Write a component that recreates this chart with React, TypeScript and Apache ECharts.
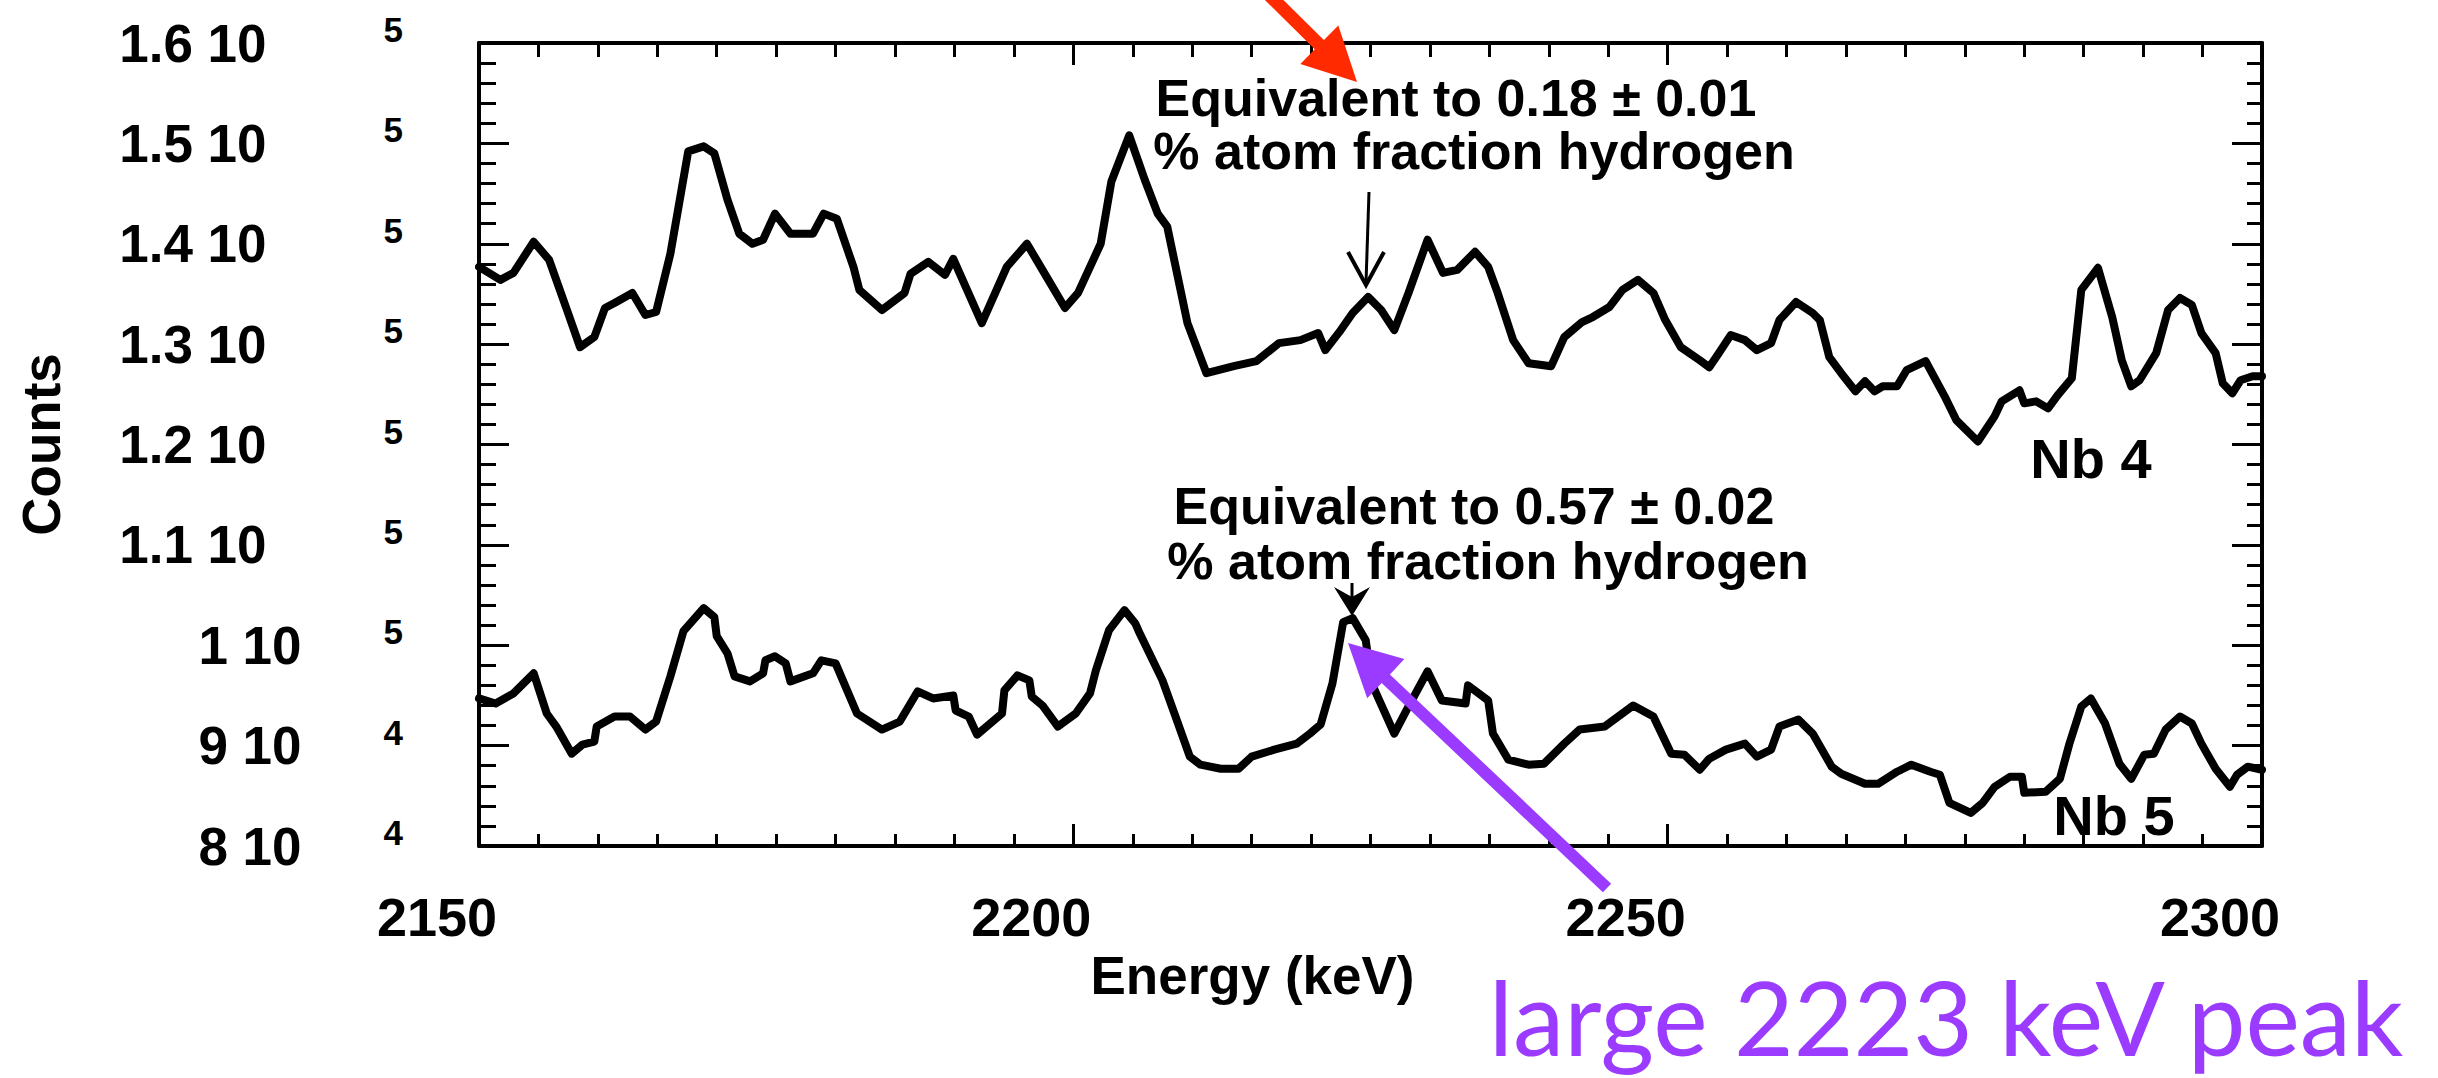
import React, { useEffect, useRef } from 'react';
import * as echarts from 'echarts';

// ---- data ----
const nb4Energy = [
  2150.0, 2151.8, 2152.9, 2154.6, 2155.9, 2157.4, 2158.5, 2159.7, 2160.6, 2161.4,
  2162.9, 2164.0, 2164.9, 2166.1, 2167.6, 2168.9, 2169.8, 2170.9, 2171.9, 2173.0,
  2173.9, 2174.9, 2176.2, 2178.1, 2179.0, 2180.1, 2181.5, 2182.0, 2183.9, 2185.8,
  2186.3, 2187.8, 2189.2, 2189.9, 2192.3, 2194.4, 2196.1, 2197.6, 2199.3, 2200.4,
  2202.3, 2203.2, 2204.7, 2206.0, 2207.1, 2207.9, 2209.6, 2211.2, 2213.5, 2215.4,
  2217.3, 2219.1, 2220.6, 2221.2, 2222.5, 2223.5, 2224.8, 2225.9, 2227.0, 2228.2,
  2229.8, 2231.1, 2232.3, 2233.8, 2234.9, 2235.7, 2237.0, 2238.3, 2240.2, 2241.3,
  2242.8, 2243.7, 2245.1, 2246.2, 2247.5, 2248.8, 2249.8, 2251.1, 2252.7, 2253.5,
  2254.3, 2255.3, 2256.5, 2257.5, 2258.7, 2259.4, 2260.8, 2262.2, 2262.8, 2263.6,
  2264.6, 2265.8, 2266.6, 2267.4, 2268.1, 2269.3, 2270.1, 2271.7, 2273.3, 2274.3,
  2276.1, 2277.5, 2278.1, 2279.6, 2280.0, 2281.0, 2282.0, 2282.8, 2284.0, 2284.8,
  2286.2, 2287.4, 2288.2, 2289.0, 2289.7, 2291.1, 2292.1, 2293.1, 2294.1, 2294.9,
  2296.1, 2296.7, 2297.5, 2298.2, 2299.2, 2300.0,
];
const nb4Counts = [
  137700, 136400, 137100, 140200, 138400, 133400, 129700, 130700, 133600, 134100,
  135100, 132900, 133200, 139000, 149200, 149700, 149000, 144400, 141000, 140000,
  140400, 143000, 141000, 141000, 143000, 142500, 137700, 135400, 133400, 135100,
  137000, 138200, 136900, 138500, 132100, 137700, 140000, 137000, 133600, 135100,
  140000, 146200, 150800, 146400, 143000, 141700, 132100, 127100, 127800, 128300,
  130100, 130400, 131100, 129400, 131400, 133100, 134700, 133400, 131400, 135100,
  140400, 137100, 137400, 139200, 137700, 135100, 130400, 128100, 127800, 130700,
  132200, 132700, 133700, 135400, 136400, 135100, 132400, 129700, 128400, 127700,
  129100, 130900, 130400, 129400, 130100, 132400, 134200, 133100, 132400, 128700,
  127100, 125300, 126300, 125300, 125800, 125800, 127400, 128300, 124800, 122400,
  120300, 122800, 124300, 125400, 124100, 124300, 123600, 124900, 126600, 135400,
  137600, 132700, 128400, 125800, 126400, 129100, 133400, 134600, 133900, 131100,
  129100, 126100, 125100, 126400, 126800, 126800,
];

const nb5Energy = [
  2150.0, 2151.4, 2152.9, 2154.6, 2155.7, 2156.5, 2157.8, 2158.7, 2159.7, 2159.9,
  2161.4, 2162.7, 2164.0, 2164.9, 2166.1, 2167.2, 2168.9, 2169.8, 2170.0, 2170.9,
  2171.5, 2172.8, 2173.9, 2174.1, 2174.9, 2175.8, 2176.2, 2178.1, 2178.8, 2180.0,
  2181.8, 2183.9, 2185.4, 2186.9, 2188.2, 2189.9, 2190.1, 2191.2, 2191.9, 2194.0,
  2194.2, 2195.3, 2196.3, 2196.5, 2197.4, 2198.7, 2200.2, 2201.4, 2201.9, 2203.0,
  2204.3, 2205.2, 2205.5, 2207.5, 2208.6, 2209.8, 2210.7, 2212.4, 2213.9, 2215.0,
  2216.9, 2218.8, 2219.9, 2220.8, 2221.8, 2222.7, 2223.5, 2224.6, 2225.1, 2227.0,
  2228.2, 2229.8, 2231.0, 2233.0, 2233.2, 2234.9, 2235.3, 2236.6, 2238.3, 2239.6,
  2241.3, 2242.6, 2244.7, 2247.1, 2248.8, 2250.3, 2251.4, 2252.7, 2253.5, 2254.9,
  2256.5, 2257.5, 2258.7, 2259.4, 2261.0, 2262.2, 2263.8, 2264.6, 2266.6, 2267.7,
  2269.3, 2270.5, 2272.1, 2272.9, 2273.7, 2275.5, 2276.5, 2277.5, 2278.8, 2279.8,
  2280.0, 2281.8, 2283.0, 2283.8, 2284.8, 2285.6, 2286.8, 2288.0, 2289.0, 2290.1,
  2290.9, 2291.9, 2293.1, 2294.1, 2294.9, 2296.1, 2297.3, 2297.9, 2298.8, 2300.0,
];
const nb5Counts = [
  94700, 94200, 95200, 97200, 93200, 91900, 89200, 90100, 90400, 91900,
  92900, 92900, 91600, 92400, 96900, 101400, 103700, 102800, 100900, 99200,
  96900, 96400, 97200, 98500, 98900, 98200, 96400, 97200, 98500, 98200,
  93200, 91600, 92400, 95400, 94700, 95000, 93500, 92900, 91100, 93200,
  95500, 97000, 96500, 94900, 94000, 91900, 93200, 95200, 97500, 101500,
  103500, 102200, 101400, 96500, 92900, 88900, 88100, 87700, 87700, 88900,
  89600, 90200, 91200, 92100, 96200, 102300, 102700, 100500, 96200, 91200,
  93900, 97400, 94500, 94200, 96000, 94500, 91200, 88600, 88100, 88200,
  90200, 91600, 91900, 94000, 92900, 89200, 89100, 87600, 88700, 89600,
  90200, 88900, 89600, 91900, 92600, 91200, 87900, 87200, 86200, 86200,
  87400, 88100, 87400, 87100, 84300, 83300, 84300, 85900, 86900, 86900,
  85300, 85400, 86700, 90200, 93900, 94700, 92200, 88200, 86700, 89100,
  89200, 91600, 92900, 92200, 90200, 87700, 85900, 87100, 87900, 87600,
];

const xRange = [2150, 2300];
const yRange = [80000, 160000];

const FONT = '"Liberation Sans", Arial, Helvetica, sans-serif';
const BLACK = '#000000';
const RED = '#ff2a00';
const PURPLE = '#9a3bff';

function fmtY(v: number): string {
  const exp = Math.floor(Math.log10(v) + 1e-9);
  const mant = Math.round((v / Math.pow(10, exp)) * 10) / 10;
  const isInt = Number.isInteger(mant);
  const m = isInt ? String(mant) : mant.toFixed(1);
  const gap = isInt ? 'g2' : 'g1';
  return `{m|${m} 10}{${gap}| }{s|${exp}}`;
}

function fmtX(v: number): string {
  return String(Math.round(v));
}

function arrowPoints(tail: number[], tip: number[], w: number, headLen: number, headHalf: number) {
  const dx = tip[0] - tail[0];
  const dy = tip[1] - tail[1];
  const len = Math.hypot(dx, dy);
  const ux = dx / len, uy = dy / len;
  const nx = -uy, ny = ux;
  const bx = tip[0] - ux * headLen, by = tip[1] - uy * headLen;
  return [
    [tail[0] + nx * w / 2, tail[1] + ny * w / 2],
    [bx + nx * w / 2, by + ny * w / 2],
    [bx + nx * headHalf, by + ny * headHalf],
    [tip[0], tip[1]],
    [bx - nx * headHalf, by - ny * headHalf],
    [bx - nx * w / 2, by - ny * w / 2],
    [tail[0] - nx * w / 2, tail[1] - ny * w / 2],
  ];
}

const axisLineStyle = { color: BLACK, width: 4 };
const tickStyle = { color: BLACK, width: 3 };

export default function App() {
  const ref = useRef<HTMLDivElement>(null);

  useEffect(() => {
    if (!ref.current) return;
    const chart = echarts.init(ref.current, undefined, { renderer: 'svg' });

    const textStyle = (size: number, weight: string = 'bold') => ({
      fontSize: size,
      fontWeight: weight,
      fontFamily: FONT,
      fill: BLACK,
      align: 'center',
      verticalAlign: 'middle',
    });

    const option: any = {
      animation: false,
      backgroundColor: '#ffffff',
      grid: {
        left: 479,
        top: 43,
        width: 1783,
        height: 803,
        containLabel: false,
        outerBoundsMode: 'none',
      },
      xAxis: [
        {
          type: 'value',
          min: xRange[0],
          max: xRange[1],
          interval: 50,
          position: 'bottom',
          axisLine: { show: true, onZero: false, lineStyle: axisLineStyle },
          axisTick: { show: true, inside: true, length: 22, lineStyle: tickStyle },
          minorTick: { show: true, splitNumber: 10, length: 12, lineStyle: tickStyle },
          splitLine: { show: false },
          minorSplitLine: { show: false },
          axisLabel: {
            show: true,
            formatter: fmtX,
            color: BLACK,
            fontSize: 54,
            fontWeight: 'bold',
            fontFamily: FONT,
            margin: 44,
            padding: [0, 84, 0, 0],
          },
          name: 'Energy (keV)',
          nameLocation: 'middle',
          nameGap: 100,
          nameTextStyle: {
            color: BLACK,
            fontSize: 53,
            fontWeight: 'bold',
            fontFamily: FONT,
            padding: [0, 236, 0, 0],
          },
        },
        {
          type: 'value',
          min: xRange[0],
          max: xRange[1],
          interval: 50,
          position: 'top',
          axisLine: { show: true, onZero: false, lineStyle: axisLineStyle },
          axisTick: { show: true, inside: true, length: 22, lineStyle: tickStyle },
          minorTick: { show: true, splitNumber: 10, length: 14, lineStyle: tickStyle },
          splitLine: { show: false },
          axisLabel: { show: false },
        },
      ],
      yAxis: [
        {
          type: 'value',
          min: yRange[0],
          max: yRange[1],
          interval: 10000,
          position: 'left',
          axisLine: { show: true, onZero: false, lineStyle: axisLineStyle },
          axisTick: { show: true, inside: true, length: 30, lineStyle: tickStyle },
          minorTick: { show: true, splitNumber: 5, length: 17, lineStyle: tickStyle },
          splitLine: { show: false },
          axisLabel: {
            show: true,
            margin: 76,
            formatter: fmtY,
            rich: {
              m: { fontSize: 53, fontWeight: 'bold', fontFamily: FONT, color: BLACK, lineHeight: 62 },
              g1: { width: 117, fontSize: 10, lineHeight: 62 },
              g2: { width: 82, fontSize: 10, lineHeight: 62 },
              s: {
                fontSize: 35,
                fontWeight: 'bold',
                fontFamily: FONT,
                color: BLACK,
                lineHeight: 32,
                verticalAlign: 'top',
              },
            },
          },
          name: 'Counts',
          nameLocation: 'middle',
          nameRotate: 90,
          nameGap: 411,
          nameTextStyle: { color: BLACK, fontSize: 53, fontWeight: 'bold', fontFamily: FONT },
        },
        {
          type: 'value',
          min: yRange[0],
          max: yRange[1],
          interval: 10000,
          position: 'right',
          axisLine: { show: true, onZero: false, lineStyle: axisLineStyle },
          axisTick: { show: true, inside: true, length: 30, lineStyle: tickStyle },
          minorTick: { show: true, splitNumber: 5, length: 15, lineStyle: tickStyle },
          splitLine: { show: false },
          axisLabel: { show: false },
        },
      ],
      series: [
        {
          name: 'Nb 4',
          type: 'line',
          xAxisIndex: 0,
          yAxisIndex: 0,
          data: nb4Energy.map((e, i) => [e, nb4Counts[i]]),
          showSymbol: false,
          symbol: 'none',
          lineStyle: { color: BLACK, width: 8, join: 'round', cap: 'round' },
          z: 3,
        },
        {
          name: 'Nb 5',
          type: 'line',
          xAxisIndex: 0,
          yAxisIndex: 0,
          data: nb5Energy.map((e, i) => [e, nb5Counts[i]]),
          showSymbol: false,
          symbol: 'none',
          lineStyle: { color: BLACK, width: 8, join: 'round', cap: 'round' },
          z: 3,
        },
      ],
      graphic: [
        { type: 'text', x: 1456, y: 98, z: 50, style: { text: 'Equivalent to 0.18 ± 0.01', ...textStyle(52) } },
        { type: 'text', x: 1474, y: 151, z: 50, style: { text: '% atom fraction hydrogen', ...textStyle(52) } },
        { type: 'text', x: 1474, y: 506, z: 50, style: { text: 'Equivalent to 0.57 ± 0.02', ...textStyle(52) } },
        { type: 'text', x: 1488, y: 561, z: 50, style: { text: '% atom fraction hydrogen', ...textStyle(52) } },
        { type: 'text', x: 2091, y: 458, z: 50, style: { text: 'Nb 4', ...textStyle(56) } },
        { type: 'text', x: 2114, y: 815, z: 50, style: { text: 'Nb 5', ...textStyle(56) } },
        // small black arrows
        { type: 'line', z: 50, shape: { x1: 1369, y1: 192, x2: 1366, y2: 283 }, style: { stroke: BLACK, lineWidth: 3 } },
        { type: 'polyline', z: 50, shape: { points: [[1348, 252], [1366, 285], [1384, 252]] }, style: { stroke: BLACK, lineWidth: 4, fill: null } },
        { type: 'line', z: 50, shape: { x1: 1352, y1: 583, x2: 1352, y2: 612 }, style: { stroke: BLACK, lineWidth: 3 } },
        { type: 'polygon', z: 50, shape: { points: [[1334, 587], [1352, 597], [1370, 587], [1352, 616]] }, style: { fill: BLACK } },
        // red arrow
        { type: 'polygon', z: 60, shape: { points: arrowPoints([1262, -12], [1357, 82], 13, 53, 27) }, style: { fill: RED } },
        // purple arrow + caption
        { type: 'polygon', z: 60, shape: { points: arrowPoints([1607, 888], [1348, 643], 12, 52, 27) }, style: { fill: PURPLE } },
        {
          type: 'text', x: 1946, y: 1016, z: 60,
          style: { text: 'large 2223 keV peak', fontSize: 103, fontWeight: 'normal', fontFamily: 'Lato, "Open Sans", sans-serif', fill: PURPLE, align: 'center', verticalAlign: 'middle' },
        },
      ],
    };

    chart.setOption(option);
    return () => chart.dispose();
  }, []);

  return (
    <div
      ref={ref}
      style={{ position: 'fixed', left: 0, top: 0, width: 2438, height: 1078, background: '#ffffff' }}
    />
  );
}
